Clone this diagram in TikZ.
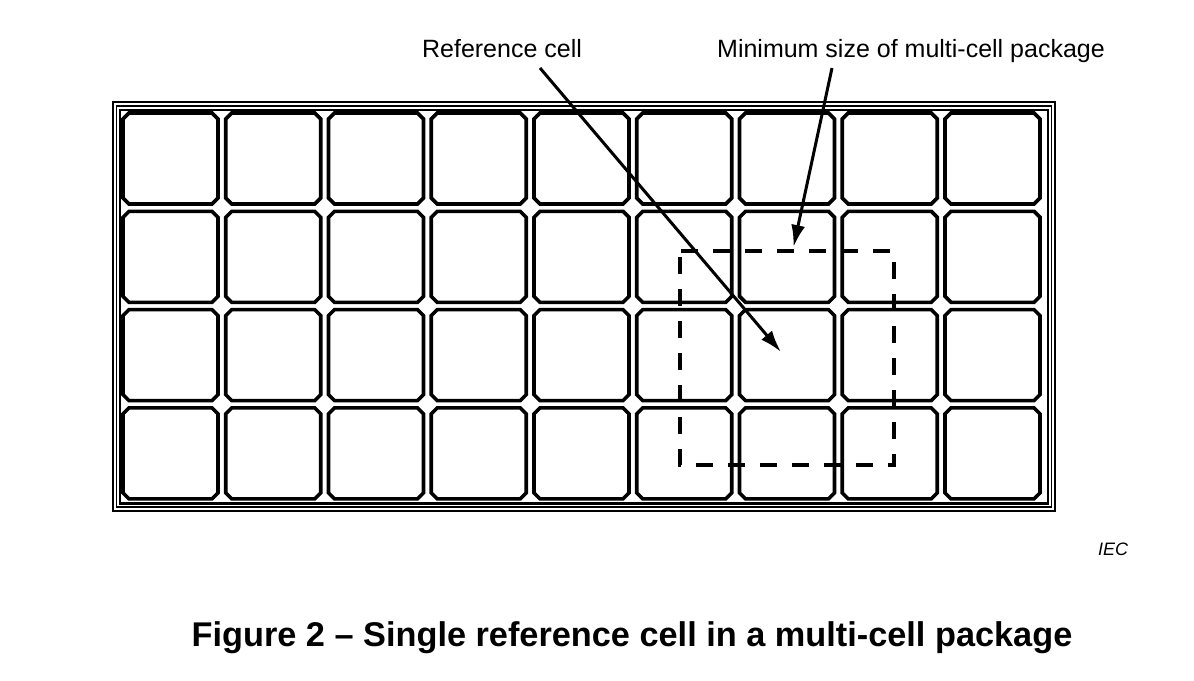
\documentclass[tikz,border=0pt]{standalone}
\usepackage{fontspec}
\setmainfont{Liberation Sans}
\usetikzlibrary{arrows.meta}
\begin{document}
\begin{tikzpicture}[x=1pt,y=-1pt,
  cellline/.style={draw, line width=3.6pt, line join=miter},
  lbl/.style={font=\fontsize{25}{30}\selectfont, inner sep=0pt, anchor=base},
  pointer/.style={line width=3pt, -{Latex[length=22pt,width=14pt]}},
  pkgbox/.style={draw, line width=3.8pt, dash pattern=on 17pt off 15pt, dash phase=-6pt}]
\useasboundingbox (0,0) rectangle (1194,680);
\fill[white] (0,0) rectangle (1194,680);
% frame
\draw[line width=1.7pt] (113,102) rectangle (1055,511);
\draw[line width=1.7pt] (116.5,106) rectangle (1051.5,507);
\draw[line width=2.8pt] (120,110) rectangle (1048,503.5);
% cells (chamfered squares)
\def\cw{95}\def\ch{91}\def\cc{6}
\foreach \i in {0,...,8}{
  \foreach \j in {0,...,3}{
    \pgfmathsetmacro{\xa}{123+\i*102.75}
    \pgfmathsetmacro{\ya}{113+\j*98.3}
    \draw[cellline] (\xa+\cc,\ya) -- (\xa+\cw-\cc,\ya) -- (\xa+\cw,\ya+\cc) -- (\xa+\cw,\ya+\ch-\cc)
      -- (\xa+\cw-\cc,\ya+\ch) -- (\xa+\cc,\ya+\ch) -- (\xa,\ya+\ch-\cc) -- (\xa,\ya+\cc) -- cycle;
  }
}
% dashed package outline
\draw[pkgbox] (680,251) rectangle (894,465);
% labels
\node[lbl] (ref) at (502,57) {Reference cell};
\node[lbl] (min) at (911,57) {Minimum size of multi-cell package};
\node[font=\fontsize{18}{22}\selectfont\itshape, inner sep=0pt, anchor=base] (iec) at (1113,555) {IEC};
\node[font=\fontsize{34.3}{40}\selectfont\bfseries, inner sep=0pt, anchor=base] (cap) at (632,646) {Figure 2 – Single reference cell in a multi-cell package};
% arrows
\coordinate (refstart) at (540,68);
\coordinate (refend) at (781,352);
\coordinate (minstart) at (832,68);
\coordinate (minend) at (793.5,247);
\draw[pointer] (refstart) -- (refend);
\draw[pointer] (minstart) -- (minend);
\end{tikzpicture}
\end{document}
